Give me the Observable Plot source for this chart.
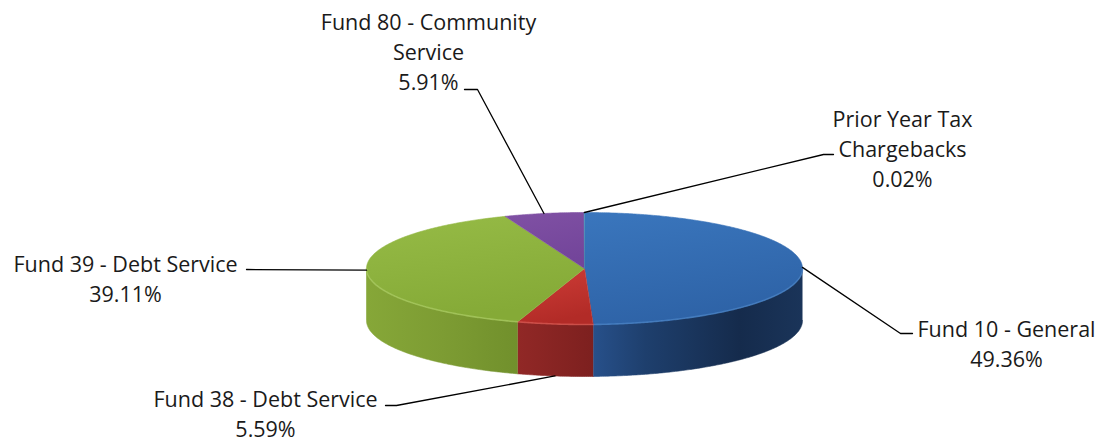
<!DOCTYPE html>
<html><head><meta charset="utf-8">
<script src="https://cdn.jsdelivr.net/npm/d3@7"></script>
<script src="https://cdn.jsdelivr.net/npm/@observablehq/plot@0.6"></script>
<style>html,body{margin:0;padding:0;background:#fff}svg{display:block}</style>
</head><body><div id="chart"></div>
<script>
// ---- data ----
const categories = ["Fund 10 - General", "Fund 38 - Debt Service", "Fund 39 - Debt Service", "Fund 80 - Community\nService", "Prior Year Tax\nChargebacks"];
const values = [49.36, 5.59, 39.11, 5.91, 0.02];
const percentLabels = ["49.36%", "5.59%", "39.11%", "5.91%", "0.02%"];

// ---- styles ----
const topStops = [
  [["0", "#3a76bd"], ["1", "#2e63a7"]],
  [["0", "#cf3d37"], ["1", "#b22b27"]],
  [["0", "#96bb46"], ["1", "#85aa37"]],
  [["0", "#8051a4"], ["1", "#73459a"]],
  [["0", "#4bacc6"], ["1", "#3d93ab"]]
];
const sideStops = [
  [["0", "#27508a"], ["0.25", "#1e3f6d"], ["0.7", "#152b4c"], ["1", "#1a3459"]],
  [["0", "#912826"], ["1", "#7d201f"]],
  [["0", "#86a738"], ["0.5", "#7d9c33"], ["1", "#71902c"]],
  [["0", "#5e3a80"], ["1", "#4f2f6e"]],
  [["0", "#2f7f96"], ["1", "#286b7e"]]
];
const edgeColors = ["#4a84c8", "#d85a52", "#aacb62", "#9670b8", "#6cc0d6"];

// ---- layout ----
const W = 1107, H = 445;
const pie = {cx: 584, cy: 268, rx: 218, ry: 56, depth: 52};
const labelPos = [[1006, 342], [265, 412], [125, 277], [428, 50], [902, 147]];
const leaderKnee = [[900, 333], [396, 405], [246, 269], [477, 89], [823, 154]];
const leaderEnd = [[912, 333], [385, 405], [246, 269], [464, 89], [833, 154]];

// ---- geometry from data ----
const total = d3.sum(values);
let acc = 0;
const slices = values.map((v, i) => {
  const a0 = acc / total * 360; acc += v; const a1 = acc / total * 360;
  return {i, a0, a1, mid: (a0 + a1) / 2};
});
const pt = (deg, dy = 0) => {
  const r = deg * Math.PI / 180;
  return [pie.cx + pie.rx * Math.sin(r), pie.cy - pie.ry * Math.cos(r) + dy];
};
const arc = (a0, a1, dy = 0) => {
  const n = Math.max(2, Math.ceil((a1 - a0) / 0.5));
  return d3.range(n + 1).map(k => pt(a0 + (a1 - a0) * k / n, dy));
};
const topPolys = slices.map(s => [[pie.cx, pie.cy], ...arc(s.a0, s.a1)].map(([x, y]) => ({x, y})));
const sidePolys = slices.map(s => {
  const b0 = Math.max(s.a0, 90), b1 = Math.min(s.a1, 270);
  if (b1 <= b0) return null;
  return [...arc(b0, b1), ...arc(b0, b1, pie.depth).reverse()].map(([x, y]) => ({x, y}));
});
const edgeLines = slices.map(s => {
  const b0 = Math.max(s.a0, 90), b1 = Math.min(s.a1, 270);
  if (b1 <= b0) return null;
  return arc(b0, b1).map(([x, y]) => ({x, y}));
});
const leaders = slices.flatMap(s => {
  const front = s.mid > 150 && s.mid < 210;
  const a = pt(s.mid, front ? pie.depth : 0);
  return [a, leaderKnee[s.i], leaderEnd[s.i]].map(([x, y]) => ({x, y, z: s.i}));
});
const labels = slices.map(s => ({x: labelPos[s.i][0], y: labelPos[s.i][1], text: categories[s.i] + "\n" + percentLabels[s.i]}));

const marks = [];
sidePolys.forEach((p, i) => { if (p) marks.push(Plot.line(p, {x: "x", y: "y", fill: `url(#side${i})`, stroke: `url(#side${i})`, strokeWidth: 0.6})); });
topPolys.forEach((p, i) => marks.push(Plot.line(p, {x: "x", y: "y", fill: `url(#top${i})`, stroke: `url(#top${i})`, strokeWidth: 0.6})));
edgeLines.forEach((p, i) => { if (p) marks.push(Plot.line(p, {x: "x", y: "y", stroke: edgeColors[i], strokeWidth: 1.6, strokeOpacity: 0.7})); });
marks.push(Plot.line(leaders, {x: "x", y: "y", z: "z", stroke: "#000", strokeWidth: 1.3}));
marks.push(Plot.text(labels, {x: "x", y: "y", text: "text", fontSize: 21.5, lineHeight: 1.4, fill: "#1a1a1a", textAnchor: "middle", fontFamily: "Open Sans"}));

const svg = Plot.plot({
  width: W, height: H, margin: 0,
  x: {domain: [0, W], range: [0, W], axis: null},
  y: {domain: [0, H], range: [0, H], axis: null},
  style: {background: "#fff", fontFamily: "Open Sans"},
  marks
});
const defs = d3.select(svg).insert("defs", ":first-child");
const addGrad = (id, stops, x2, y2) => {
  const g = defs.append("linearGradient").attr("id", id).attr("x1", 0).attr("y1", 0).attr("x2", x2).attr("y2", y2);
  stops.forEach(([o, c]) => g.append("stop").attr("offset", o).attr("stop-color", c));
};
topStops.forEach((s, i) => addGrad("top" + i, s, 0.3, 1));
sideStops.forEach((s, i) => addGrad("side" + i, s, 1, 0));
document.getElementById("chart").append(svg);
</script>
</body></html>
